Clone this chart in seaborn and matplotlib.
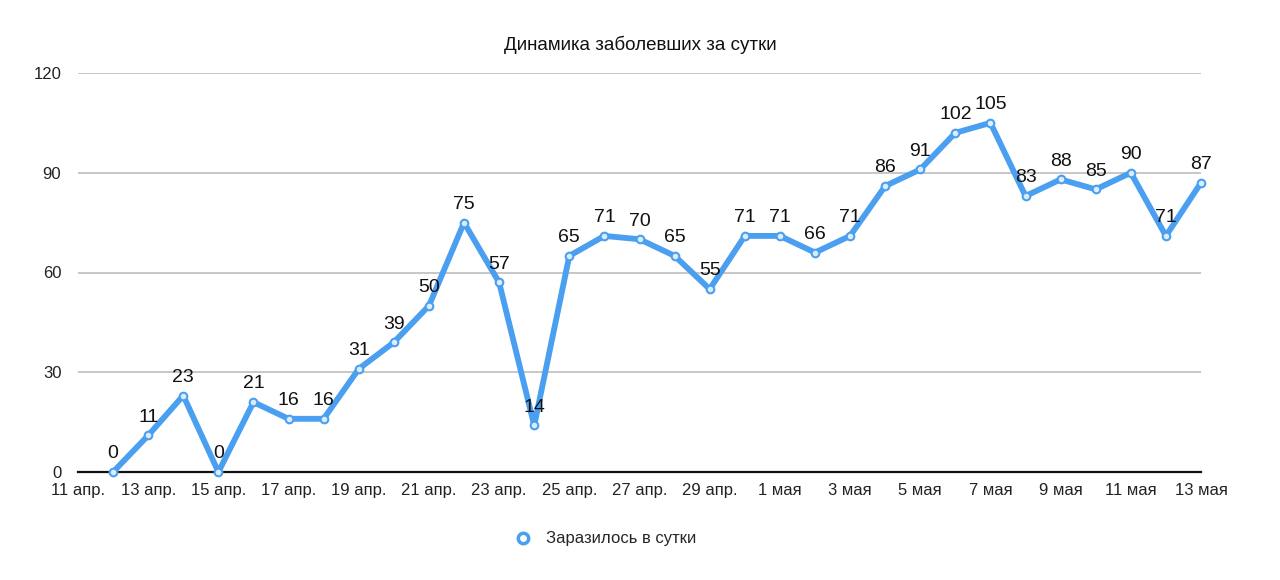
import matplotlib
matplotlib.use("Agg")
import matplotlib.pyplot as plt
from matplotlib.lines import Line2D
import seaborn as sns
import pandas as pd

tick_labels = ["11 апр.", "13 апр.", "15 апр.", "17 апр.", "19 апр.", "21 апр.", "23 апр.",
               "25 апр.", "27 апр.", "29 апр.", "1 мая", "3 мая", "5 мая", "7 мая",
               "9 мая", "11 мая", "13 мая"]
day_index = list(range(1, 33))  # 12 апр. .. 13 мая (0 = 11 апр.)
cases = [0, 11, 23, 0, 21, 16, 16, 31, 39, 50, 75, 57, 14, 65, 71, 70, 65, 55,
         71, 71, 66, 71, 86, 91, 102, 105, 83, 88, 85, 90, 71, 87]
series_name = "Заразилось в сутки"
title = "Динамика заболевших за сутки"
y_ticks = [0, 30, 60, 90, 120]

sns.set_theme(style="white")
plt.rcParams["font.family"] = ["Liberation Sans", "DejaVu Sans"]

color = "#4a9ff0"
df = pd.DataFrame({"day": day_index, "cases": cases})

fig = plt.figure(figsize=(12.8, 5.8), dpi=100)
ax = fig.add_axes([78 / 1280, 1 - 472 / 580, (1201 - 78) / 1280, (472 - 73) / 580])

sns.lineplot(data=df, x="day", y="cases", ax=ax, color=color, linewidth=4.2,
             marker="o", markersize=5.5, markerfacecolor="#dcecfc",
             markeredgecolor=color, markeredgewidth=1.5, clip_on=False, zorder=3)

for x, y in zip(day_index, cases):
    ax.annotate(str(y), (x, y), xytext=(0, 7), textcoords="offset points",
                ha="center", va="bottom", fontsize=14, color="#111111", zorder=4)

ax.set_xlim(0, 32)
ax.set_ylim(0, 120)
ax.set_xticks(list(range(0, 33, 2)))
ax.set_xticklabels(tick_labels)
ax.set_yticks(y_ticks)
ax.set_yticklabels([str(v) for v in y_ticks])
ax.tick_params(axis="x", length=0, pad=8, labelsize=12, colors="#222222")
ax.tick_params(axis="y", length=0, pad=12, labelsize=12, colors="#222222")
for lbl in ax.get_yticklabels():
    lbl.set_horizontalalignment("right")

ax.grid(axis="y", color="#bdbdbd", linewidth=1.2)
ax.grid(axis="x", visible=False)
for s in ["top", "right", "left"]:
    ax.spines[s].set_visible(False)
ax.spines["bottom"].set_color("#111111")
ax.spines["bottom"].set_linewidth(1.6)
ax.set_xlabel("")
ax.set_ylabel("")

fig.text(0.5, 1 - 45 / 580, title, ha="center", va="center", fontsize=13.5, color="#111111")

handle = Line2D([], [], linestyle="none", marker="o", markersize=7.5,
                markerfacecolor="white", markeredgecolor=color, markeredgewidth=2.5)
fig.legend([handle], [series_name], loc="center", bbox_to_anchor=(0.47, 1 - 539 / 580),
           frameon=False, fontsize=12, handletextpad=0.4)

fig.savefig("out.png", dpi=100, facecolor="white")
